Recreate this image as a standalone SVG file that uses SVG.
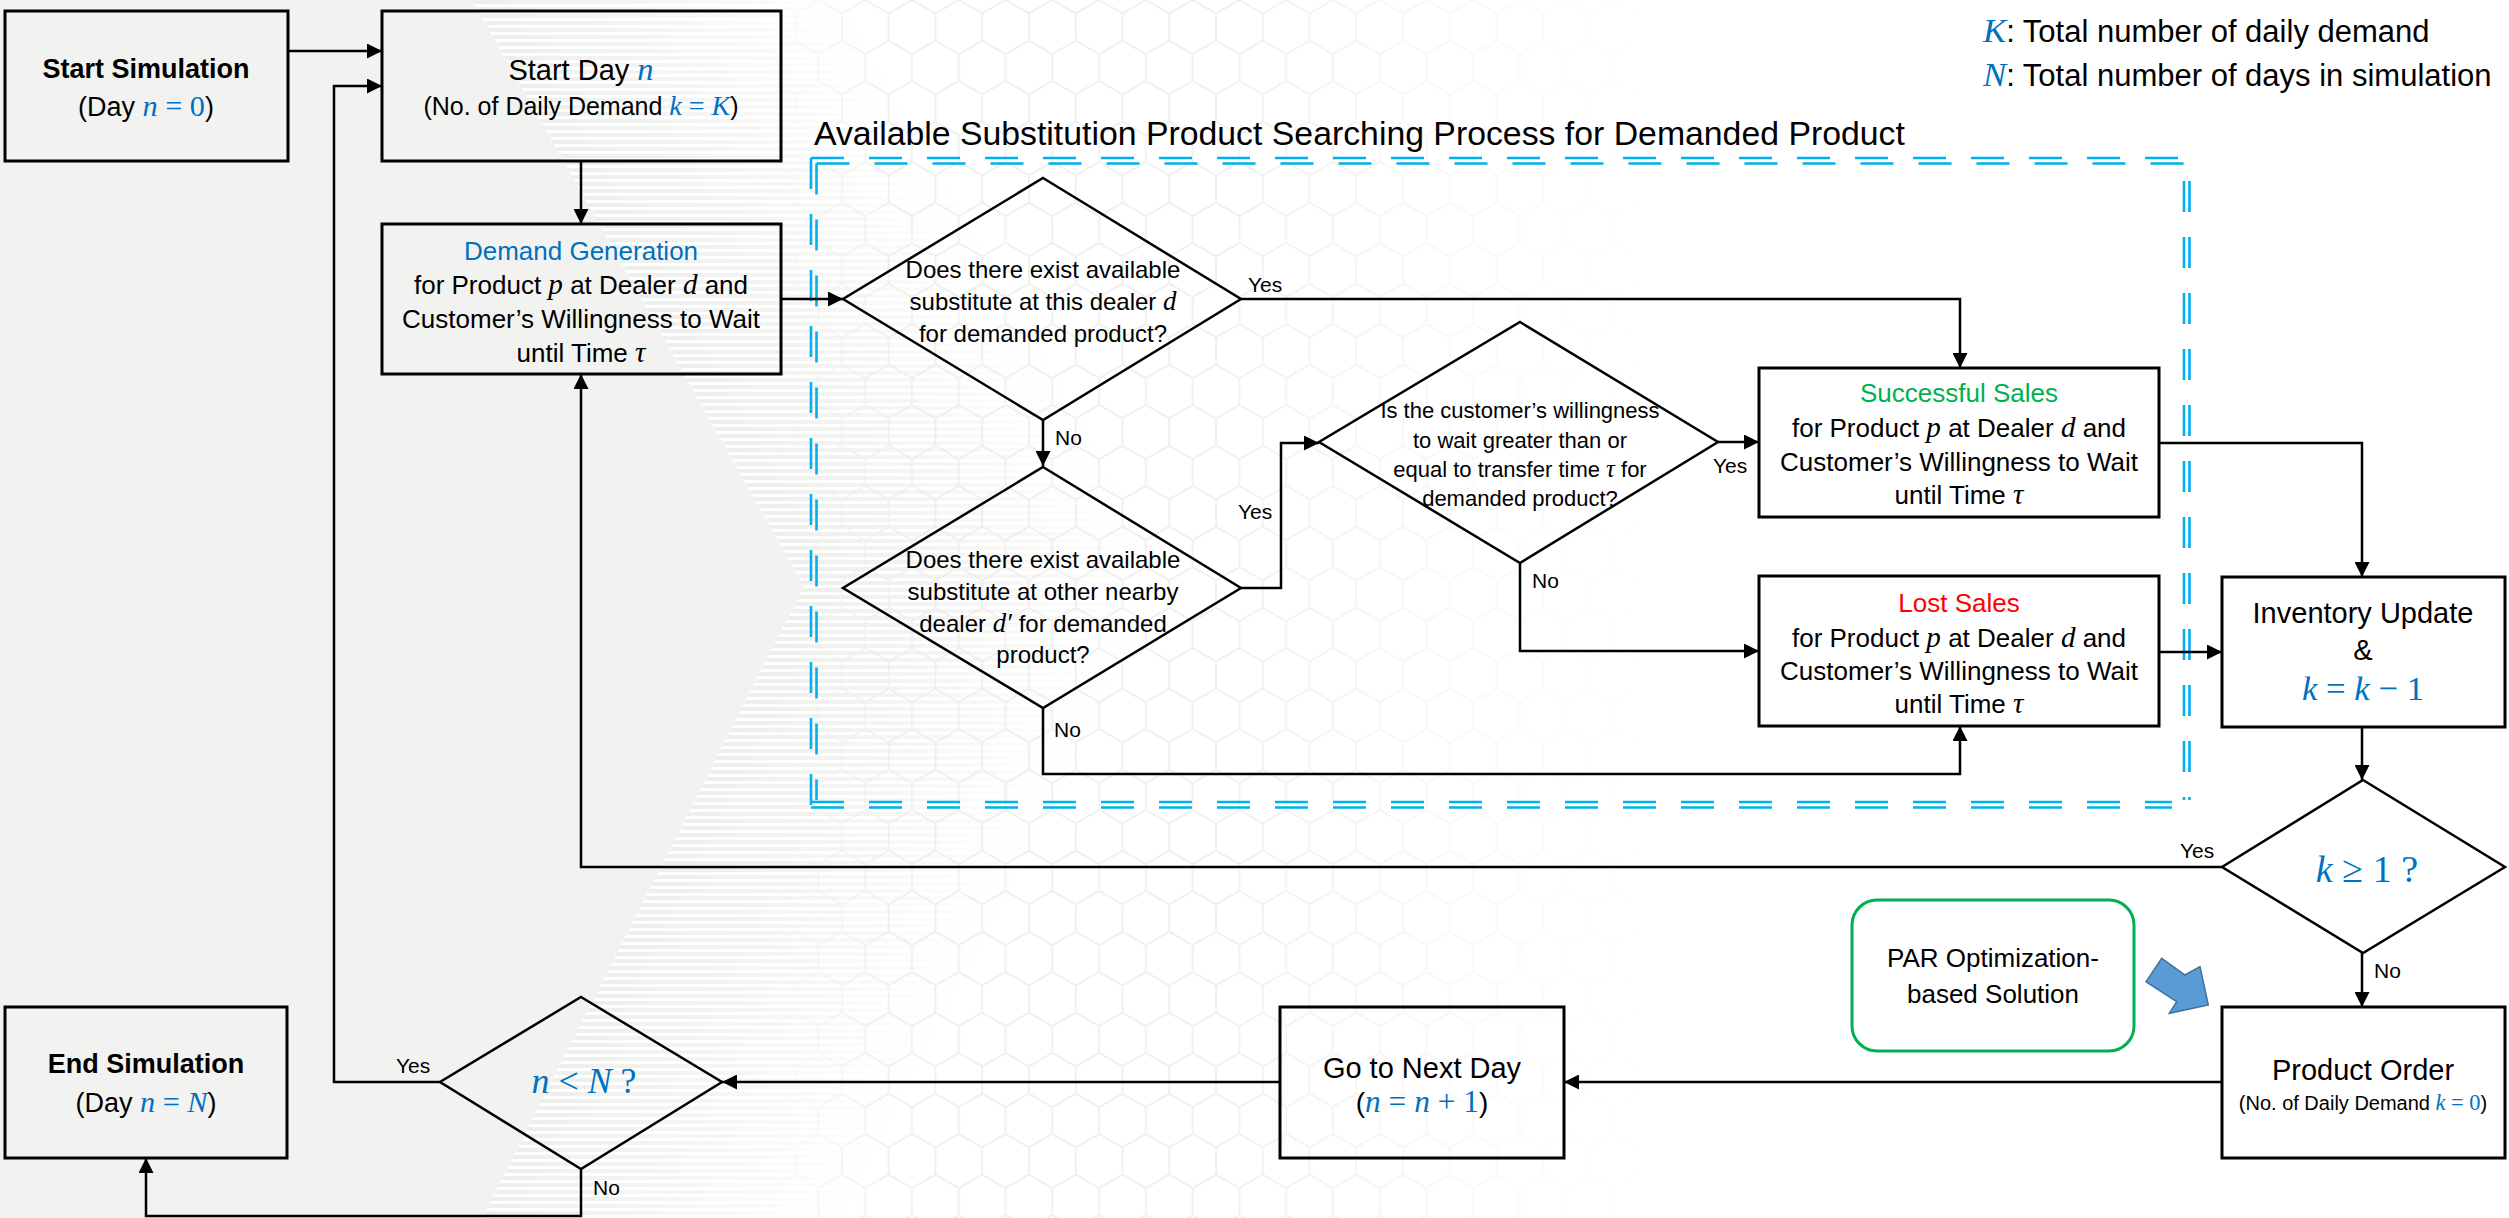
<svg xmlns="http://www.w3.org/2000/svg" width="2509" height="1218" viewBox="0 0 2509 1218">
<defs>
<style>
.t{font-family:"Liberation Sans",Arial,sans-serif;fill:#000}
.c{text-anchor:middle}
.b{font-weight:bold}
.m{font-family:"Liberation Serif","Times New Roman",serif;fill:#0070C0;font-size:1.12em}
.i{font-style:italic}
.lbl{font-family:"Liberation Sans",Arial,sans-serif;font-size:21px;fill:#000}
.box{fill:none;stroke:#000;stroke-width:3}
.dia{fill:none;stroke:#000;stroke-width:2.5}
.con{fill:none;stroke:#000;stroke-width:2.5;marker-end:url(#ah)}
.dh{fill:none;stroke:#00B0F0;stroke-width:2.6;stroke-dasharray:33 25}
.dv{fill:none;stroke:#00B0F0;stroke-width:2.6;stroke-dasharray:31 25}
</style>
<marker id="ah" viewBox="0 0 10 10" refX="10" refY="5" markerWidth="15" markerHeight="15" markerUnits="userSpaceOnUse" orient="auto"><path d="M0,0 L10,5 L0,10 Z" fill="#000"/></marker>
<pattern id="stripes" x="0" y="0" width="20" height="7" patternUnits="userSpaceOnUse"><rect x="0" y="0" width="20" height="4" fill="#EDEFEB"/></pattern>
<pattern id="hex" x="0" y="0" width="46.77" height="81" patternUnits="userSpaceOnUse"><path d="M23.38,0 L46.77,13.5 L46.77,40.5 L23.38,54 L0,40.5 L0,13.5 Z M23.38,54 L23.38,81" fill="none" stroke="#F0F0F0" stroke-width="2"/></pattern>
<linearGradient id="gu" gradientUnits="userSpaceOnUse" x1="472" y1="0" x2="759" y2="-163"><stop offset="0" stop-color="#fff" stop-opacity="1"/><stop offset="1" stop-color="#fff" stop-opacity="0"/></linearGradient>
<linearGradient id="gl" gradientUnits="userSpaceOnUse" x1="482" y1="1218" x2="776" y2="1368"><stop offset="0" stop-color="#fff" stop-opacity="1"/><stop offset="1" stop-color="#fff" stop-opacity="0"/></linearGradient>
<linearGradient id="gh" gradientUnits="userSpaceOnUse" x1="760" y1="0" x2="1650" y2="0"><stop offset="0" stop-color="#fff" stop-opacity="0"/><stop offset="0.15" stop-color="#fff" stop-opacity="1"/><stop offset="0.5" stop-color="#fff" stop-opacity="1"/><stop offset="1" stop-color="#fff" stop-opacity="0"/></linearGradient>
<mask id="mu" maskUnits="userSpaceOnUse" x="0" y="0" width="2509" height="1218"><polygon points="472,0 1000,0 1200,586 804,586" fill="url(#gu)"/></mask>
<mask id="ml" maskUnits="userSpaceOnUse" x="0" y="0" width="2509" height="1218"><polygon points="804,586 1200,586 1000,1218 482,1218" fill="url(#gl)"/></mask>
<mask id="mh" maskUnits="userSpaceOnUse" x="0" y="0" width="2509" height="1218"><rect x="0" y="0" width="2509" height="1218" fill="url(#gh)"/></mask>
</defs>

<g id="background">
<rect x="0" y="0" width="2509" height="1218" fill="#fff"/>
<rect x="700" y="0" width="1000" height="1218" fill="url(#hex)" mask="url(#mh)"/>
<rect x="0" y="0" width="1400" height="1218" fill="url(#stripes)" mask="url(#mu)"/>
<rect x="0" y="0" width="1400" height="1218" fill="url(#stripes)" mask="url(#ml)"/>
<polygon points="0,0 472,0 804,586 482,1218 0,1218" fill="#F2F3F0"/>
</g>

<g id="legend">
<text class="t" x="1983" y="42" font-size="31"><tspan class="m i">K</tspan>: Total number of daily demand</text>
<text class="t" x="1983" y="86" font-size="31"><tspan class="m i">N</tspan>: Total number of days in simulation</text>
</g>

<g id="search-process-group">
<text class="t" x="814" y="145" font-size="33.8">Available Substitution Product Searching Process for Demanded Product</text>
<path class="dh" d="M811,158 H2186 M816.5,163.5 H2186"/>
<path class="dv" d="M2184,181 V800 M2189.5,181 V800"/>
<path class="dh" d="M811,802 H2172 M811,807.5 H2172"/>
<path class="dv" d="M811,158 V806 M816.5,163.5 V800"/>
</g>

<g id="connectors">
<path class="con" d="M288,51 H382"/>
<path class="con" d="M440,1082 H334 V86 H382"/>
<path class="con" d="M581,161 V224"/>
<path class="con" d="M781,299 H843"/>
<path class="con" d="M1241,299 H1960 V368"/>
<path class="con" d="M1043,419 V466"/>
<path class="con" d="M1241,588 H1281 V443 H1319"/>
<path class="con" d="M1043,708 V774 H1960 V726"/>
<path class="con" d="M1718,442 H1759"/>
<path class="con" d="M1520,563 V651 H1759"/>
<path class="con" d="M2159,443 H2362 V577"/>
<path class="con" d="M2159,652 H2222"/>
<path class="con" d="M2362,727 V780"/>
<path class="con" d="M2222,867 H581 V374"/>
<path class="con" d="M2362,953 V1007"/>
<path class="con" d="M2222,1082 H1564"/>
<path class="con" d="M1280,1082 H722"/>
<path class="con" d="M581,1169 V1216 H146 V1158"/>
<text class="lbl" x="1248" y="292">Yes</text>
<text class="lbl" x="1055" y="445">No</text>
<text class="lbl" x="1238" y="519">Yes</text>
<text class="lbl" x="1054" y="737">No</text>
<text class="lbl" x="1713" y="473">Yes</text>
<text class="lbl" x="1532" y="588">No</text>
<text class="lbl" x="2180" y="858">Yes</text>
<text class="lbl" x="2374" y="978">No</text>
<text class="lbl" x="396" y="1073">Yes</text>
<text class="lbl" x="593" y="1195">No</text>
</g>

<g id="start-simulation">
<rect class="box" x="5" y="11" width="283" height="150"/>
<text class="t c b" x="146" y="78" font-size="27">Start Simulation</text>
<text class="t c" x="146" y="116" font-size="27">(Day <tspan class="m"><tspan class="i">n</tspan> = 0</tspan>)</text>
</g>

<g id="start-day">
<rect class="box" x="382" y="11" width="399" height="150"/>
<text class="t c" x="581" y="80" font-size="29">Start Day <tspan class="m i">n</tspan></text>
<text class="t c" x="581" y="115" font-size="25">(No. of Daily Demand <tspan class="m"><tspan class="i">k</tspan> = <tspan class="i">K</tspan></tspan>)</text>
</g>

<g id="demand-generation">
<rect class="box" x="382" y="224" width="399" height="150"/>
<text class="t c" x="581" y="260" font-size="26" style="fill:#0070C0">Demand Generation</text>
<text class="t c" x="581" y="294" font-size="26">for Product <tspan class="m i" style="fill:#000">p</tspan> at Dealer <tspan class="m i" style="fill:#000">d</tspan> and</text>
<text class="t c" x="581" y="328" font-size="26">Customer’s Willingness to Wait</text>
<text class="t c" x="581" y="362" font-size="26">until Time <tspan class="m i" style="fill:#000">τ</tspan></text>
</g>

<g id="decision-this-dealer">
<polygon class="dia" points="1043,178 1241,299 1043,420 843,299"/>
<text class="t c" x="1043" y="278" font-size="24">Does there exist available</text>
<text class="t c" x="1043" y="310" font-size="24">substitute at this dealer <tspan class="m i" style="fill:#000">d</tspan></text>
<text class="t c" x="1043" y="342" font-size="24">for demanded product?</text>
</g>

<g id="decision-other-dealer">
<polygon class="dia" points="1043,467 1241,588 1043,708 843,588"/>
<text class="t c" x="1043" y="568" font-size="24">Does there exist available</text>
<text class="t c" x="1043" y="600" font-size="24">substitute at other nearby</text>
<text class="t c" x="1043" y="632" font-size="24">dealer <tspan class="m i" style="fill:#000">d′</tspan> for demanded</text>
<text class="t c" x="1043" y="663" font-size="24">product?</text>
</g>

<g id="decision-willingness">
<polygon class="dia" points="1520,322 1718,442 1520,563 1319,442"/>
<text class="t c" x="1520" y="418" font-size="22">Is the customer’s willingness</text>
<text class="t c" x="1520" y="448" font-size="22">to wait greater than or</text>
<text class="t c" x="1520" y="477" font-size="22">equal to transfer time <tspan class="m i" style="fill:#000">τ</tspan> for</text>
<text class="t c" x="1520" y="506" font-size="22">demanded product?</text>
</g>

<g id="successful-sales">
<rect class="box" x="1759" y="368" width="400" height="149"/>
<text class="t c" x="1959" y="402" font-size="26" style="fill:#00B050">Successful Sales</text>
<text class="t c" x="1959" y="437" font-size="26">for Product <tspan class="m i" style="fill:#000">p</tspan> at Dealer <tspan class="m i" style="fill:#000">d</tspan> and</text>
<text class="t c" x="1959" y="471" font-size="26">Customer’s Willingness to Wait</text>
<text class="t c" x="1959" y="504" font-size="26">until Time <tspan class="m i" style="fill:#000">τ</tspan></text>
</g>

<g id="lost-sales">
<rect class="box" x="1759" y="576" width="400" height="150"/>
<text class="t c" x="1959" y="612" font-size="26" style="fill:#FF0000">Lost Sales</text>
<text class="t c" x="1959" y="647" font-size="26">for Product <tspan class="m i" style="fill:#000">p</tspan> at Dealer <tspan class="m i" style="fill:#000">d</tspan> and</text>
<text class="t c" x="1959" y="680" font-size="26">Customer’s Willingness to Wait</text>
<text class="t c" x="1959" y="713" font-size="26">until Time <tspan class="m i" style="fill:#000">τ</tspan></text>
</g>

<g id="inventory-update">
<rect class="box" x="2222" y="577" width="283" height="150"/>
<text class="t c" x="2363" y="623" font-size="29">Inventory Update</text>
<text class="t c" x="2363" y="660" font-size="29">&amp;</text>
<text class="t c" x="2363" y="700" font-size="31"><tspan class="m"><tspan class="i">k</tspan> = <tspan class="i">k</tspan> − 1</tspan></text>
</g>

<g id="decision-k">
<polygon class="dia" points="2363,780 2505,867 2363,953 2222,867"/>
<text class="t c" x="2367" y="882" font-size="34"><tspan class="m"><tspan class="i">k</tspan> ≥ 1 ?</tspan></text>
</g>

<g id="product-order">
<rect class="box" x="2222" y="1007" width="283" height="151"/>
<text class="t c" x="2363" y="1080" font-size="29">Product Order</text>
<text class="t c" x="2363" y="1110" font-size="20">(No. of Daily Demand <tspan class="m"><tspan class="i">k</tspan> = 0</tspan>)</text>
</g>

<g id="par-solution">
<rect x="1852" y="900" width="282" height="151" rx="25" ry="25" fill="none" stroke="#00B050" stroke-width="3"/>
<text class="t c" x="1993" y="967" font-size="26">PAR Optimization-</text>
<text class="t c" x="1993" y="1003" font-size="26">based Solution</text>
<polygon points="2161.7,958.3 2185,975 2200,966.7 2208.3,1005 2169.3,1013.3 2176.7,1001.7 2146,981.7" fill="#5B9BD5" stroke="#41719C" stroke-width="1.5"/>
</g>

<g id="next-day">
<rect class="box" x="1280" y="1007" width="284" height="151"/>
<text class="t c" x="1422" y="1078" font-size="29">Go to Next Day</text>
<text class="t c" x="1422" y="1112" font-size="28">(<tspan class="m"><tspan class="i">n</tspan> = <tspan class="i">n</tspan> + 1</tspan>)</text>
</g>

<g id="decision-n">
<polygon class="dia" points="581,997 722,1082 581,1169 440,1082"/>
<text class="t c" x="584" y="1093" font-size="32"><tspan class="m"><tspan class="i">n</tspan> &lt; <tspan class="i">N</tspan> ?</tspan></text>
</g>

<g id="end-simulation">
<rect class="box" x="5" y="1007" width="282" height="151"/>
<text class="t c b" x="146" y="1073" font-size="27">End Simulation</text>
<text class="t c" x="146" y="1112" font-size="27">(Day <tspan class="m"><tspan class="i">n</tspan> = <tspan class="i">N</tspan></tspan>)</text>
</g>
</svg>
